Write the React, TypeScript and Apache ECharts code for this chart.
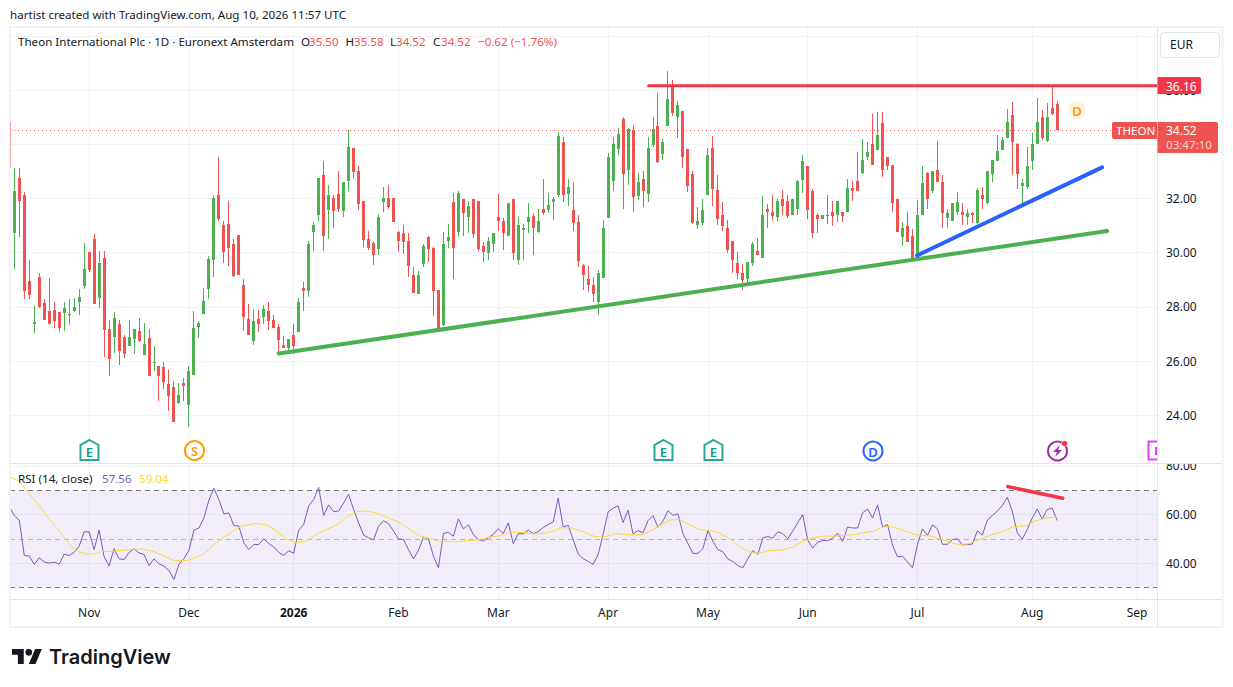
import React, { useEffect, useRef } from "react";
import * as echarts from "echarts";

const FONT = "'Noto Sans', sans-serif";
const INK = "#131722";
const GRID = "#f1f2f5";
const EDGE = "#e0e3eb";
const UP = "#4caf50";
const DOWN = "#ef5350";

// [open, close, low, high] for every trading day
const candles: number[][] = [
  [30.74,32.28,29.40,33.11],[32.76,31.91,30.59,33.11],[32.13,28.60,28.29,32.23],[28.96,28.45,28.29,29.73],[27.37,27.44,27.05,28.03],
  [29.10,27.99,27.96,29.25],[28.14,27.52,27.52,28.29],[27.85,27.37,27.37,29.07],[27.89,27.48,27.22,28.18],[27.81,27.22,27.07,27.81],
  [27.77,27.96,27.11,28.18],[27.70,27.74,27.33,28.29],[27.85,27.99,27.81,28.33],[28.18,28.37,27.70,28.66],[28.77,29.40,28.66,30.36],
  [30.02,29.36,29.29,30.02],[30.51,28.11,28.11,30.69],[28.33,29.62,27.96,30.06],[29.80,27.15,26.15,30.06],[27.18,26.08,25.45,27.52],
  [26.89,27.59,26.30,27.81],[27.37,26.37,25.86,27.52],[26.89,26.26,26.12,26.96],[26.56,26.89,26.56,27.52],[26.81,27.18,26.26,27.18],
  [27.11,26.74,26.70,27.59],[26.23,26.63,26.23,27.41],[26.85,25.45,25.45,27.18],[25.93,25.97,25.63,26.56],[25.82,25.45,24.53,25.82],
  [25.78,25.23,24.97,25.97],[25.15,24.71,24.16,25.67],[25.04,23.75,23.75,25.27],[24.45,24.75,24.42,25.19],[25.19,25.08,24.53,25.38],
  [24.38,25.63,23.57,25.82],[25.49,27.22,25.49,27.85],[27.26,27.41,26.85,27.48],[27.74,28.22,27.74,28.70],[28.66,29.77,28.29,29.88],
  [29.73,32.01,29.10,32.13],[32.13,31.24,31.17,33.53],[31.02,30.02,29.62,31.17],[31.06,30.17,29.51,31.91],[30.33,29.14,29.10,30.51],
  [30.65,29.18,29.18,30.65],[28.81,27.63,27.11,29.03],[27.55,26.96,26.96,28.11],[26.74,27.48,26.60,27.92],[27.55,27.37,27.07,27.89],
  [27.63,27.92,27.37,28.07],[27.85,27.48,27.15,28.18],[27.52,27.22,27.22,27.70],[27.26,26.78,26.26,27.37],[26.60,26.48,26.48,26.93],
  [26.48,26.81,26.37,26.81],[26.96,26.56,26.26,27.37],[27.07,28.18,27.07,28.33],[28.70,28.59,27.85,28.92],[28.59,30.32,28.37,30.43],
  [30.77,31.02,30.06,31.13],[31.39,32.76,31.17,32.76],[32.87,30.62,30.06,33.38],[31.58,32.13,30.51,32.50],[32.02,31.54,30.91,32.13],
  [32.17,31.61,31.50,33.01],[31.54,32.61,31.32,32.61],[32.65,33.90,32.28,34.53],[33.86,32.98,32.76,33.86],[33.01,31.80,31.58,33.20],
  [31.91,30.47,30.21,31.91],[30.51,30.17,30.10,30.80],[30.36,29.92,29.55,30.43],[30.14,31.32,29.92,31.43],[31.87,32.02,31.50,32.42],
  [32.02,31.69,31.61,32.50],[32.02,31.13,31.13,32.02],[30.77,30.43,30.06,30.80],[30.71,30.38,29.94,31.01],[30.45,29.50,29.09,30.71],
  [29.16,28.50,28.50,29.46],[28.46,29.16,28.46,29.31],[29.57,30.23,29.46,30.31],[30.57,30.12,29.64,30.60],[30.16,28.57,27.65,30.20],
  [28.61,27.20,27.20,28.61],[27.32,30.34,27.28,30.75],[30.42,30.57,30.16,31.05],[31.86,30.16,29.02,32.19],[30.75,32.19,30.57,32.26],
  [32.00,31.45,30.60,32.00],[31.30,31.71,30.71,31.89],[31.97,30.68,30.53,31.97],[31.89,30.12,30.05,31.89],[30.23,30.01,29.64,30.38],
  [29.98,30.42,29.75,30.57],[30.31,30.71,30.01,30.71],[31.30,31.16,30.79,32.15],[31.16,30.71,30.09,31.27],[30.60,31.82,30.60,31.82],
  [31.97,29.98,29.75,31.97],[29.75,31.01,29.53,31.30],[30.82,30.90,29.72,31.05],[31.12,31.30,30.71,31.82],[31.34,30.90,29.90,31.45],
  [30.75,31.16,30.71,31.60],[31.60,31.45,31.41,32.71],[31.56,31.75,31.45,32.19],[31.86,31.97,31.19,32.04],[32.12,34.29,32.04,34.44],
  [34.07,32.12,31.86,34.26],[32.15,32.41,31.71,32.71],[31.56,31.08,30.79,32.60],[31.12,29.68,29.46,31.41],[29.53,29.16,28.61,29.57],
  [29.02,28.80,28.54,29.50],[28.80,28.46,28.17,29.09],[28.17,29.24,27.69,29.35],[29.05,30.90,29.05,31.19],[31.27,33.52,31.27,33.67],
  [32.63,34.00,32.26,34.26],[33.81,34.37,33.59,34.59],[34.92,32.89,31.60,34.99],[33.07,34.55,32.48,34.59],[34.51,32.04,31.52,34.70],
  [32.08,32.60,31.93,32.93],[32.71,32.26,31.67,33.00],[32.15,33.85,31.86,34.26],[33.96,34.55,33.89,34.99],[34.66,33.33,33.30,35.88],
  [33.63,34.07,33.41,34.18],[34.66,35.66,34.66,36.69],[36.14,35.14,35.03,36.36],[34.99,35.44,34.22,35.58],[35.22,33.52,33.11,35.22],
  [33.81,32.45,32.23,33.81],[32.89,31.08,31.05,33.00],[31.01,31.16,30.86,31.67],[31.08,31.56,31.01,32.00],[32.12,33.59,32.12,33.85],
  [33.85,32.34,31.71,34.29],[32.30,31.23,31.01,32.85],[31.38,30.97,30.79,31.86],[30.90,30.09,29.98,31.19],[30.45,29.75,29.24,30.45],
  [29.61,29.24,29.02,30.01],[29.27,28.98,28.61,29.57],[29.02,29.64,28.87,29.64],[29.61,30.34,29.50,30.38],[30.05,29.90,29.90,30.53],
  [29.79,31.41,29.79,32.08],[31.60,31.49,30.90,31.78],[31.52,31.34,31.16,32.12],[31.30,31.89,31.16,32.00],[32.00,31.71,31.41,32.30],
  [31.89,31.34,31.27,32.12],[31.38,31.97,31.38,31.97],[31.60,32.63,31.41,32.67],[32.67,33.37,32.19,33.59],[33.19,31.56,31.23,33.19],
  [32.26,30.71,30.53,32.34],[31.41,31.23,30.71,31.45],[31.23,31.41,31.23,31.41],[31.41,31.34,31.05,32.12],[31.52,31.34,30.97,31.89],
  [31.41,31.89,31.12,31.89],[31.49,31.34,31.12,31.49],[31.49,32.37,31.49,32.71],[32.37,32.26,31.89,32.63],[32.63,32.26,32.26,33.70],
  [32.93,33.41,32.89,34.18],[33.52,33.70,33.41,34.07],[34.00,33.22,33.22,35.10],[33.78,34.33,33.78,35.18],[34.77,33.04,32.78,35.18],
  [33.52,33.19,33.07,33.52],[33.22,31.82,31.49,33.22],[31.97,30.75,30.75,31.97],[30.57,30.90,30.23,31.12],[30.97,30.38,30.38,31.52],
  [30.60,29.79,29.79,30.86],[29.79,31.41,29.79,31.93],[31.38,32.56,31.38,33.19],[32.93,32.00,31.63,32.97],[32.26,33.00,32.19,33.00],
  [33.07,32.60,32.60,34.11],[32.60,31.45,30.90,32.85],[31.27,31.45,30.90,31.60],[31.16,31.82,31.16,31.82],[31.49,31.86,31.41,32.23],
  [31.52,31.38,31.01,31.82],[31.30,31.45,31.01,31.60],[31.45,31.41,31.08,31.52],[31.08,32.30,31.05,32.37],[32.12,32.00,31.60,32.41],
  [31.82,33.00,31.78,33.00],[32.89,33.41,32.60,33.41],[33.37,33.74,33.37,34.33],[33.78,34.15,33.78,34.26],[34.22,34.81,34.22,35.29],
  [35.07,34.07,32.85,35.55],[34.00,32.89,32.34,34.03],[32.45,32.56,31.67,32.71],[32.41,33.19,32.34,33.89],[33.37,34.00,33.04,34.40],
  [34.00,34.81,34.00,35.69],[34.99,34.22,34.15,35.25],[34.11,34.99,34.07,35.51],[35.33,35.10,35.07,36.14],[35.50,34.52,34.52,35.58],
];

// RSI at each day, beginning with the day before the first candle
const rsi: number[] = [
  63.4,59.6,57.7,43.3,42.9,39.5,42.2,40.5,40.0,40.4,39.6,43.7,43.2,44.5,47.0,52.9,52.9,45.6,53.6,42.7,38.9,
  46.0,41.8,41.5,44.4,45.9,44.2,43.6,39.0,41.8,39.7,38.8,37.0,33.3,39.5,41.9,45.3,53.6,54.5,58.6,65.9,
  70.8,66.2,60.3,60.7,55.5,55.3,48.4,45.6,47.7,47.7,50.0,48.1,46.7,44.5,43.2,45.1,44.1,53.6,56.0,63.6,
  66.2,71.2,59.6,64.0,61.2,61.5,64.8,68.4,62.1,56.6,51.6,50.4,49.6,55.2,57.5,56.3,53.2,50.0,49.7,45.6,
  41.8,45.3,50.7,50.1,42.9,38.1,52.2,52.7,51.1,58.2,54.1,55.8,51.8,49.7,49.2,50.4,51.9,54.2,52.2,56.6,
  48.1,52.2,52.1,53.6,52.2,53.0,54.7,55.9,57.0,66.8,54.9,55.6,49.7,43.8,41.9,40.7,39.5,43.6,51.8,61.1,
  62.6,63.6,56.7,61.8,52.1,53.4,52.5,57.5,59.6,54.8,57.3,61.6,59.7,60.3,52.2,48.1,44.0,44.1,46.0,53.4,
  49.0,45.6,44.7,41.8,40.7,39.0,38.1,41.8,45.2,43.6,50.4,51.0,50.3,52.9,52.2,50.1,53.2,56.6,60.0,49.5,
  46.2,48.6,49.3,49.3,50.3,52.3,49.0,54.9,54.5,54.5,60.7,62.3,58.6,64.0,54.9,55.9,47.4,42.6,42.9,40.5,
  38.1,47.7,54.1,51.4,55.8,54.1,47.8,47.8,49.7,50.1,47.5,47.7,47.9,53.3,51.6,57.7,59.6,61.4,63.7,67.1,
  61.4,52.5,49.9,53.8,58.6,62.3,58.2,62.1,62.6,57.56,
];

// RSI moving average, read at [day number, value]
const rsiMa: number[][] = [
  [-0.87,75.5],[1.1,73.7],[3.1,68.2],[5.1,63.4],[7.1,57.9],[8.5,54.5],[10.1,50.4],[11.5,46.7],[12.8,44.7],[14.5,43.8],
  [16.1,43.8],[17.5,44.8],[19.5,44.9],[21.8,45.3],[23.8,45.8],[25.8,45.8],[27.8,44.8],[29.8,43.3],[31.8,41.2],[34.5,41.1],
  [36.5,42.5],[38,43.7],[39.8,47.3],[41.8,50.5],[43.8,53.2],[45.8,55.5],[48.5,56.3],[50.5,55.9],[52.2,53.8],[54.2,50.4],
  [56.2,48.5],[58.2,48.8],[60.5,51.8],[62.8,54.1],[64.8,55.9],[66.8,59.3],[68.8,61.2],[70.5,61.5],[72.5,60.7],[75,58.6],
  [77,57.0],[79.3,53.8],[81.3,51.1],[83.3,50.1],[85,49.2],[88,48.8],[90.7,49.2],[93,49.7],[95.3,50.7],[97.7,51.4],
  [99.3,52.9],[102,52.6],[104.3,51.9],[106.7,52.5],[108,53.2],[109.3,54.5],[111.3,54.7],[113.7,53.2],[116.3,51.0],[118,50.7],
  [120.7,52.2],[123.3,51.6],[126,51.8],[128,53.8],[130,56.2],[131.7,57.9],[133.3,57.9],[135.3,55.9],[137.3,53.8],[139.3,53.6],
  [141,52.7],[143.3,50.1],[145.3,47.0],[147.3,44.7],[149,44.0],[151.3,45.2],[154,45.5],[156,46.7],[158,49.0],[159.5,50.1],
  [162.1,51.2],[164.8,51.1],[168.8,51.9],[171.1,52.9],[172.1,53.0],[174.1,54.9],[175.5,55.2],[177.8,53.8],[180.5,51.8],[183.8,51.1],
  [186.1,49.6],[188.8,47.8],[190.8,47.8],[192.1,48.6],[194.8,51.0],[197.5,52.6],[200.1,54.9],[202.8,55.5],[204.5,57.4],[206.8,58.6],[209,59.04],
];

// Month labels at their day number
const monthDays = [15, 35, 56, 77, 97, 119, 139, 159, 181, 204, 225];
const monthNames = ["Nov", "Dec", "2026", "Feb", "Mar", "Apr", "May", "Jun", "Jul", "Aug", "Sep"];

const priceGridTicks = [24, 26, 28, 30, 32, 34, 36, 38];
const priceLabelTicks = [24, 26, 28, 30, 32, 36]; // 34 and 38 sit behind the tag and the button
const rsiTicks = [40, 60, 80];

// Trend lines as [day number, value]
const resistanceLine = [[127.1, 36.16], [232, 36.16]];
const longSupportLine = [[53, 26.28], [219, 30.8]];
const shortSupportLine = [[180.9, 29.9], [218, 33.15]];
const rsiDivergenceLine = [[199.1, 71.5], [210.1, 66.7]];
const lastPriceLine = [[-0.8617, 34.51], [232, 34.51]];

const SLOTS = 231; // one leading empty slot, the candles, then future days
const categories: string[] = Array.from({ length: SLOTS }, () => "");
monthDays.forEach((d, k) => { categories[d + 1] = monthNames[k]; });
const candleData = candles.map((c, i) => [i + 1, ...c]);

const BAR = 4.99;
const X0 = 14.3;
const dayMin = (10 - X0) / BAR;
const dayMax = (1157 - X0) / BAR;

const renderCandle = (_: any, api: any) => {
  const slot = api.value(0);
  const open = api.value(1);
  const close = api.value(2);
  const [rawX, yOpen] = api.coord([slot, open]);
  const yClose = api.coord([slot, close])[1];
  const yLow = api.coord([slot, api.value(3)])[1];
  const yHigh = api.coord([slot, api.value(4)])[1];
  const fill = close >= open ? UP : DOWN;
  const cx = Math.floor(rawX);
  const top = Math.round(Math.min(yOpen, yClose));
  const bottom = Math.round(Math.max(yOpen, yClose));
  return {
    type: "group",
    children: [
      { type: "rect", shape: { x: cx, y: Math.round(yHigh), width: 1, height: Math.max(1, Math.round(yLow) - Math.round(yHigh)) }, style: { fill } },
      { type: "rect", shape: { x: cx - 1, y: top, width: 3, height: Math.max(1, bottom - top) }, style: { fill } },
    ],
  };
};

const trend = (data: number[][], color: string, width: number, xAxisIndex: number, yAxisIndex: number, extra: any = {}) => ({
  type: "line", data, xAxisIndex, yAxisIndex, symbol: "none", silent: true, z: 5,
  lineStyle: { color, width, cap: "round", ...extra },
});

const label = (text: string, x: number, y: number, fill: string, extra: any = {}) => ({
  type: "text", z: 100, silent: true,
  style: { text, x, y, fill, font: `12px ${FONT}`, verticalAlign: "middle", align: "left", ...extra },
});
const SMALL = `11.6px ${FONT}`;

const ringIcon = (cx: number, cy: number, color: string, letter: string) => [
  { type: "circle", z: 100, shape: { cx, cy, r: 9.5 }, style: { fill: "#fff", stroke: color, lineWidth: 2 } },
  label(letter, cx, cy + 0.5, color, { align: "center", font: `600 13px ${FONT}` }),
];

const houseIcon = (cx: number) => [
  { type: "polygon", z: 100, shape: { points: [[cx, 440], [cx + 9, 445], [cx + 9, 460], [cx - 9, 460], [cx - 9, 445]] }, style: { fill: "#fff", stroke: "#26a69a", lineWidth: 2 } },
  label("E", cx, 451.5, "#089981", { align: "center", font: `600 13px ${FONT}` }),
];

export default function App() {
  const ref = useRef<HTMLDivElement>(null);
  useEffect(() => {
    if (!ref.current) return;
    echarts.graphic.registerShape(
      "tvLogo",
      echarts.graphic.extendPath("M14 22H7V11H0V4h14v18zM28 22h-8l7.5-18h8L28 22zM24 8a4 4 0 1 1-8 0a4 4 0 1 1 8 0z", {}) as any,
    );
    const chart = echarts.init(ref.current, undefined, { renderer: "svg" });
    const hiddenValueX = (gridIndex: number) => ({
      type: "value", gridIndex, min: dayMin, max: dayMax, show: false, splitLine: { show: false },
    });
    const monthX = (gridIndex: number, showLabels: boolean) => ({
      type: "category", gridIndex, data: categories, boundaryGap: true,
      axisLine: { show: false }, axisTick: { show: false, interval: (_: number, v: string) => v !== "", alignWithLabel: true },
      splitLine: { show: true, alignWithLabel: true, interval: (_: number, v: string) => v !== "", lineStyle: { color: GRID, width: 1 } },
      axisLabel: showLabels
        ? {
            show: true, interval: (_: number, v: string) => v !== "", color: INK, fontFamily: FONT, fontSize: 12, margin: 7,
            formatter: (v: string) => (v === "2026" ? `{b|${v}}` : v),
            rich: { b: { fontWeight: "bold", fontFamily: FONT, fontSize: 12, color: INK } },
          }
        : { show: false },
    });
    chart.setOption({
      animation: false,
      backgroundColor: "#ffffff",
      grid: [
        { left: 10, top: 28, width: 1147, height: 434 },
        { left: 6.8, top: 28, width: SLOTS * BAR, height: 434 },
        { left: 10, top: 464, width: 1147, height: 135 },
        { left: 6.8, top: 464, width: SLOTS * BAR, height: 135 },
      ],
      xAxis: [hiddenValueX(0), monthX(1, false), hiddenValueX(2), monthX(3, true)],
      yAxis: [
        {
          type: "value", gridIndex: 0, position: "right", min: 22.28, max: 38.29,
          axisLine: { show: false },
          axisTick: { show: false, customValues: priceGridTicks },
          splitLine: { show: true, lineStyle: { color: GRID, width: 1 } },
          axisLabel: { customValues: priceLabelTicks, color: INK, fontFamily: FONT, fontSize: 12, margin: 9, formatter: (v: number) => v.toFixed(2) },
        },
        { type: "value", gridIndex: 1, min: 22.28, max: 38.29, show: false, splitLine: { show: false } },
        {
          type: "value", gridIndex: 2, position: "right", min: 25.27, max: 80.82,
          axisLine: { show: false },
          axisTick: { show: false, customValues: rsiTicks },
          splitLine: { show: true, lineStyle: { color: GRID, width: 1 } },
          axisLabel: { customValues: rsiTicks, color: INK, fontFamily: FONT, fontSize: 12, margin: 9, formatter: (v: number) => v.toFixed(2) },
        },
        { type: "value", gridIndex: 3, min: 25.27, max: 80.82, show: false, splitLine: { show: false } },
      ],
      series: [
        trend(lastPriceLine, DOWN, 1, 0, 0, { type: [1, 3], cap: "butt" }),
        {
          type: "custom", xAxisIndex: 1, yAxisIndex: 1, data: candleData, renderItem: renderCandle, silent: true, z: 3,
          encode: { x: 0, y: [1, 2, 3, 4] },
        },
        trend(resistanceLine, "#f23645", 3, 0, 0),
        trend(longSupportLine, UP, 4, 0, 0),
        trend(shortSupportLine, "#2962ff", 4, 0, 0),
        {
          type: "line", xAxisIndex: 2, yAxisIndex: 2, data: rsiMa, symbol: "none", silent: true, z: 4,
          lineStyle: { color: "#fdd835", width: 1 },
          markArea: {
            silent: true, itemStyle: { color: "rgba(126,87,194,0.1)" }, z: 1,
            data: [[{ yAxis: 30 }, { yAxis: 70 }]],
          },
          markLine: {
            silent: true, symbol: "none", label: { show: false }, z: 2,
            lineStyle: { color: "#787b86", type: [5, 4], width: 1 },
            data: [{ yAxis: 70 }, { yAxis: 30 }, { yAxis: 50, lineStyle: { color: "#787b86", opacity: 0.5, type: [5, 4], width: 1 } }],
          },
        },
        {
          type: "line", xAxisIndex: 3, yAxisIndex: 3, data: rsi, symbol: "none", silent: true, z: 3,
          lineStyle: { color: "#7e57c2", width: 1 },
        },
        trend(rsiDivergenceLine, "#f23645", 3.5, 2, 2),
      ],
      graphic: {
        elements: [
          // frame and pane dividers
          { type: "rect", z: 90, shape: { x: 10, y: 27, width: 1212.5, height: 600 }, style: { fill: "none", stroke: GRID, lineWidth: 2 } },
          { type: "rect", z: 91, shape: { x: 1158, y: 455, width: 63, height: 8 }, style: { fill: "#fff" } },
          { type: "line", z: 92, shape: { x1: 1157.5, y1: 28, x2: 1157.5, y2: 627 }, style: { stroke: EDGE, lineWidth: 1 } },
          { type: "line", z: 92, shape: { x1: 10, y1: 463.5, x2: 1222, y2: 463.5 }, style: { stroke: EDGE, lineWidth: 1 } },
          { type: "line", z: 92, shape: { x1: 10, y1: 599.5, x2: 1222, y2: 599.5 }, style: { stroke: EDGE, lineWidth: 1 } },
          { type: "line", z: 92, shape: { x1: 10.5, y1: 122, x2: 10.5, y2: 168 }, style: { stroke: "#f7a9a8", lineWidth: 1 } },

          // page header and legends
          label("hartist created with TradingView.com, Aug 10, 2026 11:57 UTC", 10, 14.5, INK, { font: SMALL }),
          label("Theon International Plc · 1D · Euronext Amsterdam", 18, 41.2, INK, { font: SMALL }),
          label("O", 301, 41.2, INK, { font: SMALL }), label("35.50", 309, 41.2, DOWN, { font: SMALL }),
          label("H", 345.5, 41.2, INK, { font: SMALL }), label("35.58", 354, 41.2, DOWN, { font: SMALL }),
          label("L", 390, 41.2, INK, { font: SMALL }), label("34.52", 396, 41.2, DOWN, { font: SMALL }),
          label("C", 433, 41.2, INK, { font: SMALL }), label("34.52", 441, 41.2, DOWN, { font: SMALL }),
          label("−0.62 (−1.76%)", 478, 41.2, DOWN, { font: SMALL }),
          label("RSI (14, close)", 18, 478.5, INK, { font: SMALL }),
          label("57.56", 102, 478.5, "#7e57c2", { font: SMALL }),
          label("59.04", 139, 478.5, "#fdd835", { font: SMALL }),

          // currency button
          { type: "rect", z: 100, shape: { x: 1160.5, y: 32.5, width: 59, height: 25, r: 4 }, style: { fill: "#fff", stroke: EDGE, lineWidth: 1 } },
          label("EUR", 1170, 44.5, INK),

          // price tags
          { type: "rect", z: 100, shape: { x: 1157.5, y: 77, width: 43.5, height: 17, r: [0, 2, 2, 0] }, style: { fill: "#f23645" } },
          label("36.16", 1166, 86, "#fff"),
          { type: "rect", z: 100, shape: { x: 1112, y: 122, width: 45, height: 17, r: [2, 0, 0, 2] }, style: { fill: DOWN } },
          label("THEON", 1116, 130.5, "#fff", { font: SMALL }),
          { type: "rect", z: 100, shape: { x: 1157.5, y: 122, width: 60.5, height: 31, r: [0, 2, 2, 0] }, style: { fill: DOWN } },
          label("34.52", 1166, 130.5, "#fff"),
          label("03:47:10", 1166, 144.5, "#fbd4d3", { font: SMALL }),

          // event markers
          ...houseIcon(89.5),
          ...ringIcon(194.5, 450.5, "#ff9800", "S"),
          ...houseIcon(663.5),
          ...houseIcon(713.5),
          ...ringIcon(873, 451, "#2962ff", "D"),
          { type: "circle", z: 100, shape: { cx: 1057.5, cy: 451, r: 9.5 }, style: { fill: "#fff", stroke: "#9c27b0", lineWidth: 2 } },
          { type: "polygon", z: 101, shape: { points: [[1060, 445], [1053, 452], [1057, 452], [1055, 457], [1062, 450], [1058, 450]] }, style: { fill: "#9c27b0" } },
          { type: "circle", z: 102, shape: { cx: 1064.5, cy: 443.5, r: 3 }, style: { fill: "#f23645", stroke: "#fff", lineWidth: 0.5 } },
          { type: "polyline", z: 100, shape: { points: [[1157, 441.5], [1148.5, 441.5], [1148.5, 459.5], [1157, 459.5]] }, style: { fill: "none", stroke: "#e040fb", lineWidth: 2 } },
          { type: "rect", z: 100, shape: { x: 1155, y: 447, width: 2, height: 8 }, style: { fill: "#e040fb" } },
          { type: "circle", z: 100, shape: { cx: 1077, cy: 110, r: 9 }, style: { fill: "#fff3e0" } },
          label("D", 1077, 110.5, "#ff9800", { align: "center", font: `600 13px ${FONT}` }),

          // brand
          { type: "tvLogo", z: 100, x: 12, y: 645.6, scaleX: 0.84, scaleY: 0.84, style: { fill: INK } },
          label("TradingView", 49, 657, INK, { font: "600 20px Inter, sans-serif" }),
        ],
      },
    });
    return () => chart.dispose();
  }, []);
  return <div ref={ref} style={{ position: "absolute", left: 0, top: 0, width: 1233, height: 687 }} />;
}
